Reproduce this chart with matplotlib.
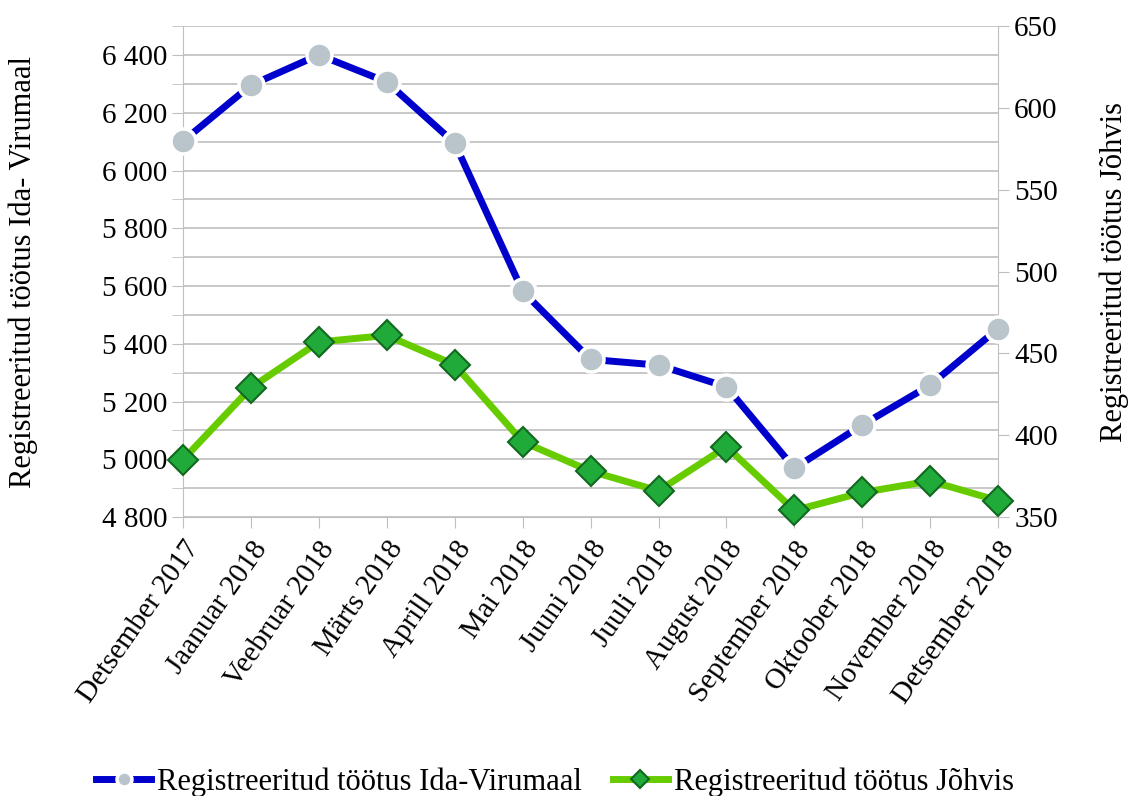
import numpy as np
import matplotlib.pyplot as plt
from matplotlib.ticker import MultipleLocator, FuncFormatter

plt.rcParams['font.family'] = ['Liberation Serif', 'DejaVu Serif']

months = ['Detsember 2017', 'Jaanuar 2018', 'Veebruar 2018', 'Märts 2018', 'Aprill 2018',
          'Mai 2018', 'Juuni 2018', 'Juuli 2018', 'August 2018', 'September 2018',
          'Oktoober 2018', 'November 2018', 'Detsember 2018']
ida_viru = [6102, 6296, 6401, 6307, 6095, 5582, 5346, 5326, 5251, 4969, 5119, 5257, 5453]
johvi = [385, 429, 457, 461, 443, 396, 378, 366, 393, 354, 365, 372, 360]

gray = '#BFBFBF'
x = np.arange(len(months))

fig = plt.figure(figsize=(11.33, 7.96), dpi=100)
ax = fig.add_axes([0.1615, 0.3505, 0.7195, 0.6165])
ax2 = ax.twinx()

# left axis: Ida-Virumaa
ax.set_xlim(0, len(months) - 1)
ax.set_ylim(4800, 6500)
ax.yaxis.set_major_locator(MultipleLocator(200))
ax.yaxis.set_minor_locator(MultipleLocator(100))
ax.yaxis.set_major_formatter(FuncFormatter(lambda v, p: f'{int(v):,}'.replace(',', ' ')))
ax.grid(axis='y', which='both', color=gray, linewidth=1.2)
ax.set_axisbelow(True)
ax.set_xticks(x)
ax.set_xticklabels(months, rotation=55, ha='right', rotation_mode='anchor', fontsize=21)
ax.tick_params(axis='x', length=8, color=gray, pad=6)
ax.tick_params(axis='y', which='both', length=8, color=gray, labelsize=21)
for s in ax.spines.values():
    s.set_visible(False)
ax.spines['left'].set_visible(True)
ax.spines['left'].set_color(gray)
ax.spines['bottom'].set_visible(True)
ax.spines['bottom'].set_color(gray)
ax.set_ylabel('Registreeritud töötus Ida- Virumaal', fontsize=22, labelpad=46)

# right axis: Jõhvi
ax2.set_ylim(350, 650)
ax2.yaxis.set_major_locator(MultipleLocator(50))
ax2.tick_params(axis='y', length=8, color=gray, labelsize=21)
for s in ax2.spines.values():
    s.set_visible(False)
ax2.spines['right'].set_visible(True)
ax2.spines['right'].set_color(gray)
ax2.set_ylabel('Registreeritud töötus Jõhvis', fontsize=22, labelpad=30)

l1, = ax2.plot(x, johvi, color='#66CC00', linewidth=5, marker='D', markersize=15,
               markerfacecolor='#1FAA3A', markeredgecolor='#13681F', markeredgewidth=1.5,
               zorder=3, clip_on=False)
l0, = ax2.plot(x, np.interp(ida_viru, [4800, 6500], [350, 650]), color='#0000CC',
               linewidth=5, marker='o', markersize=18, markerfacecolor='#B9C4CB',
               markeredgecolor='white', markeredgewidth=2.5, zorder=4, clip_on=False)

fig.legend([l0, l1], ['Registreeritud töötus Ida-Virumaal', 'Registreeritud töötus Jõhvis'],
           loc='lower center', bbox_to_anchor=(0.49, -0.036), ncol=2, frameon=False,
           fontsize=22, handlelength=1.8, columnspacing=1.0, handletextpad=0.2,
           markerscale=0.6)

fig.savefig('out.png', dpi=100)
